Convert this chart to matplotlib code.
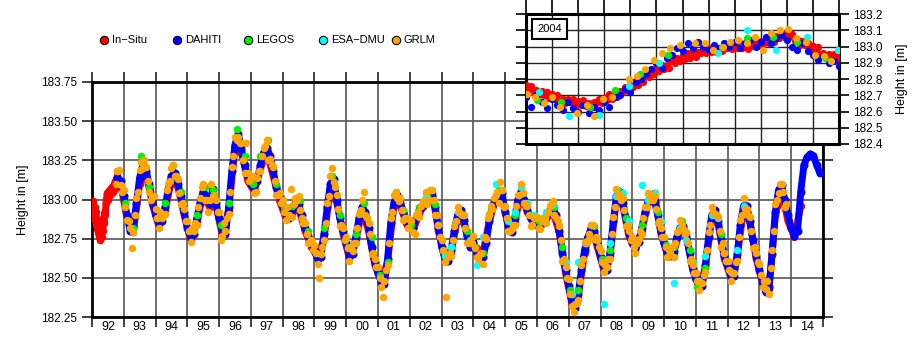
import matplotlib
matplotlib.use("Agg")
import matplotlib.pyplot as plt
import numpy as np
from matplotlib.lines import Line2D

plt.rcParams["font.family"] = ["Liberation Sans", "DejaVu Sans"]

# ---- main panel data (decimal years, heights in m) ----
insitu_early_t0, insitu_early_dt = 1992.00, 0.02
insitu_early_h = [
    182.97, 182.93, 182.99, 182.90, 182.95, 182.87, 182.92, 182.84, 182.88, 182.80,
    182.84, 182.77, 182.80, 182.74, 182.78, 182.76, 182.83, 182.80, 182.87, 182.85,
    182.92, 182.90, 182.98, 183.01, 183.04, 183.00, 183.05, 183.02, 183.06, 183.03,
    183.07, 183.04, 183.08, 183.05, 183.09, 183.06, 183.11, 183.08, 183.13, 183.10,
    183.15,
]
insitu_t0, insitu_dt = 1992.9, 0.2
insitu_h = [
    183.10,
    182.88, 182.79, 183.10, 183.17, 182.97,
    182.83, 182.93, 183.12, 183.08, 182.90,
    182.74, 182.86, 183.03, 182.95, 182.96,
    182.77, 182.93, 183.33, 183.30, 183.12,
    183.05, 183.20, 183.30, 183.15, 182.99,
    182.88, 182.91, 182.95, 182.80, 182.70,
    182.63, 182.75, 183.07, 182.98, 182.78,
    182.62, 182.74, 182.93, 182.80, 182.58,
    182.48, 182.60, 182.96, 182.96, 182.84,
    182.80, 182.91, 182.98, 183.05, 182.80,
    182.62, 182.66, 182.88, 182.85, 182.70,
    182.69, 182.66, 182.86, 183.00, 183.02,
    182.82, 182.86, 183.03, 182.92, 182.84,
    182.83, 182.88, 182.92, 182.79, 182.53,
    182.33, 182.38, 182.66, 182.82, 182.70,
    182.55, 182.64, 183.00, 182.96, 182.76,
    182.68, 182.80, 182.98, 183.04, 182.78,
    182.65, 182.66, 182.80, 182.78, 182.55,
    182.44, 182.56, 182.88, 182.84, 182.62,
    182.50, 182.63, 182.94, 182.85, 182.62,
    182.46, 182.43, 182.90, 183.05, 182.86,
    182.76, 182.96,
]

dahiti_t0, dahiti_dt = 1992.8, 0.1
dahiti_h = [
    183.14, 183.12,
    183.02, 182.90, 182.80, 182.83, 182.98, 183.14, 183.22, 183.18, 183.10, 183.00,
    182.90, 182.85, 182.86, 182.95, 183.07, 183.15, 183.17, 183.10, 183.02, 182.92,
    182.82, 182.76, 182.78, 182.88, 182.98, 183.05, 183.02, 182.97, 183.07, 182.98,
    182.88, 182.80, 182.78, 182.95, 183.18, 183.35, 183.42, 183.33, 183.22, 183.15,
    183.10, 183.07, 183.12, 183.22, 183.30, 183.33, 183.28, 183.18, 183.08, 183.02,
    182.96, 182.90, 182.88, 182.93, 182.98, 182.97, 182.90, 182.82, 182.77, 182.72,
    182.67, 182.62, 182.63, 182.78, 182.95, 183.10, 183.13, 183.00, 182.88, 182.80,
    182.72, 182.64, 182.65, 182.76, 182.88, 182.95, 182.92, 182.82, 182.70, 182.60,
    182.53, 182.47, 182.46, 182.62, 182.85, 182.98, 183.03, 182.98, 182.92, 182.86,
    182.83, 182.82, 182.88, 182.93, 182.96, 183.00, 183.02, 183.03, 182.95, 182.82,
    182.70, 182.63, 182.61, 182.68, 182.80, 182.90, 182.93, 182.87, 182.77, 182.70,
    182.73, 182.66, 182.63, 182.63, 182.72, 182.86, 182.96, 183.00, 183.03, 183.04,
    182.92, 182.83, 182.79, 182.88, 183.00, 183.05, 183.00, 182.93, 182.88, 182.86,
    182.85, 182.84, 182.85, 182.89, 182.93, 182.94, 182.90, 182.80, 182.66, 182.55,
    182.45, 182.35, 182.31, 182.40, 182.55, 182.68, 182.76, 182.81, 182.80, 182.72,
    182.63, 182.57, 182.55, 182.66, 182.86, 183.02, 183.05, 182.98, 182.88, 182.78,
    182.72, 182.69, 182.73, 182.82, 182.92, 182.99, 183.02, 182.99, 182.90, 182.80,
    182.72, 182.66, 182.64, 182.67, 182.76, 182.82, 182.83, 182.76, 182.66, 182.56,
    182.49, 182.45, 182.45, 182.58, 182.76, 182.90, 182.93, 182.86, 182.75, 182.64,
    182.57, 182.51, 182.51, 182.65, 182.84, 182.96, 182.96, 182.86, 182.74, 182.64,
    182.55, 182.47, 182.41, 182.44, 182.65, 182.92, 183.06, 183.09, 183.00, 182.90,
    182.82, 182.77, 182.80, 183.05, 183.22, 183.27, 183.29, 183.28, 183.22, 183.17,
]

legos_t0, legos_dt = 1992.8, 0.25
legos_h = [
    183.18,
    182.98, 182.82, 183.28, 183.08,
    182.88, 182.98, 183.22, 183.05,
    182.80, 182.90, 183.08, 183.06,
    182.84, 182.98, 183.45, 183.28,
    183.10, 183.28, 183.38, 183.10,
    182.95, 182.96, 183.00, 182.80,
    182.66, 182.82, 183.15, 182.90,
    182.70, 182.78, 182.98, 182.76,
    182.52, 182.60, 183.05, 182.93,
    182.84, 182.95, 183.02, 182.97,
    182.67, 182.70, 182.92, 182.80,
    182.70, 182.66, 182.94, 183.06,
    182.88, 182.90, 183.04, 182.90,
    182.86, 182.90, 182.95, 182.70,
    182.42, 182.42, 182.72, 182.83,
    182.62, 182.68, 183.06, 182.88,
    182.73, 182.84, 183.02, 182.92,
    182.71, 182.70, 182.86, 182.68,
    182.44, 182.56, 182.90, 182.78,
]

esa_t0, esa_dt = 2002.5, 0.2
esa_h = [
    183.02, 183.06, 182.84,
    182.64, 182.70, 182.92, 182.90, 182.74,
    182.58, 182.76, 182.90, 183.10, 183.06,
    182.86, 182.92, 183.08, 182.98, 182.90,
    182.88, 182.92, 182.97, 182.84, 182.60,
    182.40, 182.60, 182.72, 182.84, 182.74,
    182.33, 182.72, 183.02, 183.04, 182.86,
    182.74, 183.09, 183.00, 183.04, 182.86,
    182.70, 182.47, 182.82, 182.74, 182.60,
    182.48, 182.64, 182.90, 182.88, 182.66,
    182.54, 182.68, 182.96,
]

# GRLM, two interleaved passes (dense 10-day product)
grlm_t0, grlm_dt = 1992.75, 0.1
grlm_h = [
    183.10, 183.19, 183.05,
    182.95, 182.86, 182.69, 182.90, 183.05, 183.24, 183.25, 183.12, 183.00, 183.02,
    182.88, 182.92, 182.90, 183.06, 183.12, 183.22, 183.15, 183.04, 182.98, 182.86,
    182.80, 182.82, 182.85, 182.95, 183.08, 183.00, 182.92, 183.10, 183.03, 182.92,
    182.74, 182.85, 182.88, 183.05, 183.28, 183.38, 183.36, 183.25, 183.36, 183.12,
    183.15, 183.05, 183.18, 183.28, 183.34, 183.25, 183.22, 183.12, 183.03, 182.98,
    182.92, 182.95, 183.07, 182.97, 183.00, 182.93, 182.85, 182.78, 182.73, 182.68,
    182.66, 182.50, 182.70, 182.85, 183.02, 183.20, 183.08, 182.94, 182.84, 182.74,
    182.69, 182.70, 182.72, 182.82, 182.93, 183.05, 182.88, 182.78, 182.66, 182.57,
    182.50, 182.38, 182.55, 182.72, 182.92, 183.05, 182.99, 182.93, 182.88, 182.82,
    182.86, 182.78, 182.92, 182.96, 182.99, 182.97, 183.06, 183.00, 182.90, 182.76,
    182.68, 182.38, 182.66, 182.74, 182.86, 182.92, 182.90, 182.82, 182.73, 182.72,
    182.69, 182.62, 182.66, 182.76, 182.88, 182.96, 183.01, 183.05, 183.11, 182.95,
    182.88, 182.80, 182.84, 182.96, 183.03, 183.04, 182.96, 182.90, 182.84, 182.88,
    182.82, 182.86, 182.88, 182.92, 182.97, 182.90, 182.86, 182.74, 182.62, 182.50,
    182.40, 182.28, 182.34, 182.48, 182.62, 182.72, 182.78, 182.84, 182.76, 182.70,
    182.60, 182.58, 182.62, 182.78, 182.95, 183.02, 183.00, 182.93, 182.84, 182.74,
    182.70, 182.72, 182.80, 182.88, 182.95, 183.03, 183.00, 182.94, 182.86, 182.76,
    182.70, 182.68, 182.70, 182.72, 182.80, 182.84, 182.78, 182.72, 182.62, 182.53,
    182.48, 182.47, 182.52, 182.68, 182.84, 182.92, 182.90, 182.80, 182.72, 182.61,
    182.55, 182.53, 182.60, 182.76, 182.90, 182.94, 182.90, 182.80, 182.70, 182.60,
    182.52, 182.48, 182.48, 182.56, 182.80, 183.00, 183.10, 183.05, 182.97,
]
grlm2_t0, grlm2_dt = 1992.80, 0.1
grlm2_h = [
    183.18, 183.09,
    183.06, 182.87, 182.82, 182.79, 183.01, 183.19, 183.20, 183.21, 183.05, 183.02,
    182.94, 182.82, 182.88, 182.91, 183.10, 183.20, 183.15, 183.13, 182.97, 182.94,
    182.86, 182.73, 182.80, 182.84, 183.01, 183.10, 183.00, 183.00, 183.02, 183.00,
    182.92, 182.77, 182.80, 182.91, 183.21, 183.40, 183.40, 183.36, 183.17, 183.17,
    183.14, 183.04, 183.14, 183.18, 183.33, 183.38, 183.26, 183.21, 183.03, 183.04,
    183.00, 182.87, 182.90, 182.89, 183.01, 183.02, 182.88, 182.85, 182.72, 182.74,
    182.71, 182.59, 182.65, 182.74, 182.98, 183.15, 183.11, 183.03, 182.83, 182.82,
    182.76, 182.61, 182.67, 182.72, 182.91, 183.00, 182.90, 182.85, 182.65, 182.62,
    182.57, 182.44, 182.48, 182.58, 182.88, 183.03, 183.01, 183.01, 182.87, 182.88,
    182.87, 182.79, 182.90, 182.89, 182.99, 183.05, 183.00, 183.06, 182.90, 182.84,
    182.74, 182.60, 182.63, 182.64, 182.83, 182.95, 182.91, 182.90, 182.72, 182.72,
    182.77, 182.63, 182.65, 182.59, 182.75, 182.91, 182.94, 183.03, 182.98, 183.06,
    182.96, 182.80, 182.81, 182.84, 183.03, 183.10, 182.98, 182.96, 182.83, 182.88,
    182.89, 182.81, 182.87, 182.85, 182.96, 182.99, 182.88, 182.83, 182.61, 182.57,
    182.49, 182.32, 182.33, 182.36, 182.58, 182.73, 182.74, 182.84, 182.75, 182.74,
    182.67, 182.54, 182.57, 182.62, 182.89, 183.07, 183.03, 183.01, 182.83, 182.80,
    182.76, 182.66, 182.75, 182.78, 182.95, 183.04, 183.00, 183.02, 182.85, 182.82,
    182.76, 182.63, 182.66, 182.63, 182.79, 182.87, 182.81, 182.79, 182.61, 182.58,
    182.53, 182.42, 182.47, 182.54, 182.79, 182.95, 182.91, 182.89, 182.70, 182.66,
    182.61, 182.48, 182.53, 182.61, 182.87, 183.01, 182.94, 182.89, 182.69, 182.66,
    182.59, 182.44, 182.43, 182.40, 182.68, 182.97, 183.04, 183.10, 182.95,
]

# ---- inset data: year 2004, x in months ----
ins_insitu_h = [
    182.765, 182.734, 182.758, 182.717, 182.731, 182.700, 182.724, 182.703, 182.720, 182.684,
    182.705, 182.676, 182.702, 182.663, 182.679, 182.650, 182.676, 182.657, 182.676, 182.642,
    182.665, 182.639, 182.668, 182.632, 182.651, 182.625, 182.660, 182.650, 182.678, 182.653,
    182.685, 182.668, 182.706, 182.679, 182.707, 182.690, 182.728, 182.721, 182.752, 182.730,
    182.765, 182.750, 182.790, 182.765, 182.795, 182.780, 182.820, 182.815, 182.848, 182.828,
    182.865, 182.848, 182.886, 182.859, 182.887, 182.870, 182.908, 182.901, 182.932, 182.910,
    182.945, 182.925, 182.960, 182.930, 182.955, 182.935, 182.969, 182.958, 182.985, 182.959,
    182.990, 182.968, 183.001, 182.969, 182.992, 182.970, 183.002, 182.989, 183.014, 182.986,
    183.015, 182.991, 183.022, 182.988, 183.009, 182.985, 183.018, 183.006, 183.032, 183.005,
    183.035, 183.016, 183.052, 183.023, 183.049, 183.030, 183.065, 183.055, 183.083, 183.058,
    183.090, 183.056, 183.077, 183.033, 183.044, 183.010, 183.032, 183.009, 183.024, 182.986,
    183.005, 182.972, 182.994, 182.951, 182.963, 182.930, 182.956, 182.937, 182.956, 182.922,
    182.945,
]
ins_dahiti_h = [
    182.69, 182.63, 182.70, 182.66, 182.62, 182.68, 182.64, 182.61, 182.66, 182.62,
    182.60, 182.64, 182.59, 182.63, 182.61, 182.66, 182.63, 182.69, 182.70, 182.74,
    182.72, 182.78, 182.80, 182.83, 182.86, 182.90, 182.87, 182.93, 182.95, 182.99,
    182.97, 183.02, 182.99, 183.03, 183.00, 182.98, 183.01, 182.99, 183.02, 183.00,
    183.03, 182.99, 183.02, 183.04, 183.00, 183.03, 183.06, 183.02, 183.05, 183.07,
    183.04, 183.00, 182.98, 183.02, 182.97, 182.95, 182.92, 182.94, 182.90, 182.91,
    182.88,
]
ins_grlm_m = [0.04, 0.36, 0.68, 0.99, 1.31, 1.95, 2.33, 2.59, 2.97, 3.29, 3.93, 4.25,
              4.57, 4.89, 5.20, 5.52, 5.91, 6.48, 6.86, 7.18, 7.56, 7.82, 8.14, 8.46,
              8.78, 9.09, 9.41, 9.73, 10.05, 10.37, 10.73, 11.07, 11.42, 11.71]
ins_grlm_h = [182.71, 182.69, 182.65, 182.69, 182.63, 182.59, 182.64, 182.57, 182.68,
              182.69, 182.80, 182.82, 182.86, 182.92, 182.96, 182.99, 183.01, 183.02,
              183.02, 182.98, 183.00, 183.03, 183.04, 183.02, 183.06, 182.98, 183.08,
              183.10, 183.11, 183.05, 183.03, 182.95, 182.94, 182.91]
ins_legos_m = [0.42, 1.34, 2.46, 3.42, 4.38, 5.46, 7.50, 8.48, 9.48, 10.40, 11.45]
ins_legos_h = [182.67, 182.66, 182.63, 182.73, 182.83, 182.95, 183.00, 183.05, 183.06,
               183.03, 182.93]
ins_esa_m = [0.48, 1.63, 2.78, 3.93, 5.08, 7.37, 8.48, 9.60, 10.79, 11.96]
ins_esa_h = [182.72, 182.57, 182.58, 182.76, 182.90, 182.96, 183.10, 182.98, 183.06,
             182.98]

year_labels = ["92", "93", "94", "95", "96", "97", "98", "99", "00", "01", "02", "03",
               "04", "05", "06", "07", "08", "09", "10", "11", "12", "13", "14"]
series_names = ["In\u2212Situ", "DAHITI", "LEGOS", "ESA\u2212DMU", "GRLM"]
series_colors = ["#ff0000", "#0000ff", "#00f000", "#00ffff", "#ffa500"]


def _times(t0, dt, n):
    return t0 + dt * np.arange(n)


W, H = 917, 342
fig = plt.figure(figsize=(W / 100, H / 100), dpi=100, facecolor="white")

# ---- main axes ----
ax = fig.add_axes([92 / W, 1 - 317 / H, 731 / W, 235 / H])
ms = 5.4
c_in, c_da, c_le, c_es, c_gr = series_colors
ins_t = np.concatenate([_times(insitu_early_t0, insitu_early_dt, len(insitu_early_h)),
                        _times(insitu_t0, insitu_dt, len(insitu_h))])
ins_h = np.concatenate([insitu_early_h, insitu_h])
da_t = _times(dahiti_t0, dahiti_dt, len(dahiti_h))
# dense daily / 10-day records read as a continuous band
ax.plot(ins_t, ins_h, "-", color=c_in, lw=5, solid_joinstyle="round",
        solid_capstyle="round", zorder=3)
ax.plot(ins_t, ins_h, "o", color=c_in, ms=ms, mew=0, zorder=3)
ax.plot(da_t, dahiti_h, "-", color=c_da, lw=5, solid_joinstyle="round",
        solid_capstyle="round", zorder=4)
ax.plot(da_t, dahiti_h, "o", color=c_da, ms=ms + 0.4, mew=0, zorder=4)
ax.plot(_times(legos_t0, legos_dt, len(legos_h)), legos_h,
        "o", color=c_le, ms=ms, mew=0, zorder=5)
ax.plot(_times(esa_t0, esa_dt, len(esa_h)), esa_h,
        "o", color=c_es, ms=ms, mew=0, zorder=6)
ax.plot(_times(grlm_t0, grlm_dt, len(grlm_h)), grlm_h,
        "o", color=c_gr, ms=ms, mew=0, zorder=7)
ax.plot(_times(grlm2_t0, grlm2_dt, len(grlm2_h)), grlm2_h,
        "o", color=c_gr, ms=ms, mew=0, zorder=7)

ax.set_xlim(1992, 2015)
ax.set_ylim(182.25, 183.75)
years = np.arange(1992, 2016)
ax.set_xticks(years)
ax.set_xticklabels([])
ax.set_xticks(years[:-1] + 0.5, minor=True)
ax.set_xticklabels(year_labels, minor=True, fontsize=9)
ax.set_yticks(np.arange(182.25, 183.76, 0.25))
ax.set_yticklabels([f"{v:.2f}" for v in np.arange(182.25, 183.76, 0.25)], fontsize=8.5)
ax.tick_params(which="major", direction="out", length=7, width=1.2, color="#222222",
               top=True, right=True, pad=4)
ax.tick_params(which="minor", length=0, pad=3)
ax.grid(True, which="major", color="#555555", linewidth=1.2)
ax.set_axisbelow(True)
for sp in ax.spines.values():
    sp.set_linewidth(2.0)
ax.set_ylabel("Height in [m]", fontsize=9, labelpad=8)

# ---- inset (2004) ----
ax2 = fig.add_axes([526 / W, 1 - 144 / H, 313 / W, 130 / H], facecolor="white")
ax2.set_zorder(10)
ax2.plot(np.linspace(0, 12, len(ins_insitu_h)), ins_insitu_h, "o", color=c_in, ms=5.2, mew=0, zorder=3)
ax2.plot(np.linspace(0, 12, len(ins_dahiti_h)), ins_dahiti_h, "o", color=c_da, ms=5.2, mew=0, zorder=4)
ax2.plot(ins_legos_m, ins_legos_h, "o", color=c_le, ms=5.2, mew=0, zorder=5)
ax2.plot(ins_esa_m, ins_esa_h, "o", color=c_es, ms=5.2, mew=0, zorder=6)
ax2.plot(ins_grlm_m, ins_grlm_h, "o", color=c_gr, ms=5.2, mew=0, zorder=7)
ax2.set_xlim(0, 12)
ax2.set_ylim(182.4, 183.2)
ax2.set_xticks(np.arange(0, 13))
ax2.set_xticklabels([])
ax2.set_yticks(np.arange(182.4, 183.21, 0.1))
ax2.set_yticklabels([f"{v:.1f}" for v in np.arange(182.4, 183.21, 0.1)], fontsize=8.5)
ax2.tick_params(direction="out", length=7, width=1.2, left=True, right=True, top=True,
                bottom=False, labelleft=False, labelright=True, pad=3)
ax2.tick_params(axis="x", length=10)
ax2.grid(True, color="#222222", linewidth=1.0)
ax2.set_axisbelow(True)
for sp in ax2.spines.values():
    sp.set_linewidth(2.2)
ax2.yaxis.set_label_position("right")
ax2.set_ylabel("Height in [m]", fontsize=9, labelpad=10)
ax2.text(0.075, 0.885, "2004", transform=ax2.transAxes, fontsize=8, ha="center", va="center",
         zorder=20, bbox=dict(boxstyle="square,pad=0.45", fc="white", ec="black", lw=1.5))

# ---- legend row ----
leg_x = [104, 177, 248, 323, 396]
for x, name, col in zip(leg_x, series_names, series_colors):
    fig.add_artist(Line2D([x / W], [1 - 40 / H], marker="o", ms=6, mfc=col, mec="black",
                          mew=0.8, transform=fig.transFigure))
    fig.text((x + 8) / W, 1 - 40 / H, name, fontsize=8, va="center", ha="left")

fig.savefig("out.png", dpi=100, facecolor="white")
